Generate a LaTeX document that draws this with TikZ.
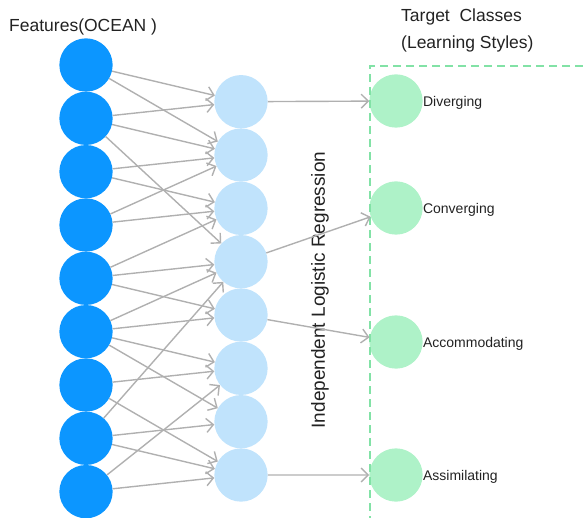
\documentclass[tikz,border=0pt]{standalone}
\usepackage{fontspec}
\setmainfont{Liberation Sans}
\usetikzlibrary{arrows.meta,positioning}
\definecolor{featblue}{RGB}{12,150,255}
\definecolor{hidblue}{RGB}{192,227,252}
\definecolor{targetgreen}{RGB}{174,242,200}
\definecolor{boxgreen}{RGB}{130,226,166}
\definecolor{linkgray}{RGB}{176,176,176}
\definecolor{textgray}{RGB}{34,34,34}
\newcommand{\gapunit}{53.33}
\newcommand{\sizeunit}{53.3pt}
\tikzset{
    neuron/.style={circle, inner sep=0pt, minimum size=\sizeunit},
    feature/.style={neuron, fill=featblue},
    hidden/.style={neuron, fill=hidblue},
    target/.style={neuron, fill=targetgreen},
    targetname/.style={right=0pt of #1, yshift=-1.5pt, inner sep=0pt, text=textgray, font=\fontsize{14}{16}\selectfont},
    heading/.style={anchor=west, inner sep=0pt, text=textgray, font=\fontsize{17.5}{20}\selectfont},
    link/.style={draw=linkgray, line width=1.4pt, -{Straight Barb[length=7pt, width=14pt]}}
}

\begin{document}
\begin{tikzpicture}[x=1pt, y=-1pt]
    \useasboundingbox (0,0) rectangle (583,518);

    \path (86,65)
        node[feature] (f1) {}
        ++(0,\gapunit) node[feature] (f2) {}
        ++(0,\gapunit) node[feature] (f3) {}
        ++(0,\gapunit) node[feature] (f4) {}
        ++(0,\gapunit) node[feature] (f5) {}
        ++(0,\gapunit) node[feature] (f6) {}
        ++(0,\gapunit) node[feature] (f7) {}
        ++(0,\gapunit) node[feature] (f8) {}
        ++(0,\gapunit) node[feature] (f9) {};

    \path (241,101.7)
        node[hidden] (h1) {}
        ++(0,\gapunit) node[hidden] (h2) {}
        ++(0,\gapunit) node[hidden] (h3) {}
        ++(0,\gapunit) node[hidden] (h4) {}
        ++(0,\gapunit) node[hidden] (h5) {}
        ++(0,\gapunit) node[hidden] (h6) {}
        ++(0,\gapunit) node[hidden] (h7) {}
        ++(0,\gapunit) node[hidden] (h8) {};

    \node[target] (t1) at (396,101) {};
    \node[target] (t2) at (396,208) {};
    \node[target] (t3) at (396,342) {};
    \node[target] (t4) at (396,475) {};
    \node[targetname=t1] (t1-name) {Diverging};
    \node[targetname=t2] (t2-name) {Converging};
    \node[targetname=t3] (t3-name) {Accommodating};
    \node[targetname=t4] (t4-name) {Assimilating};

    \node[heading] (features) at (9,27) {Features(OCEAN )};
    \node[heading] (classes) at (401,17) {Target~ Classes};
    \node[heading] (styles) at (401,44) {(Learning Styles)};
    \node[rotate=90, inner sep=0pt, text=textgray, font=\fontsize{19}{22}\selectfont] (method) at (320,290) {Independent Logistic Regression};

    \draw[boxgreen, line width=2pt, dash pattern=on 8pt off 5pt] (583,66) -- (370,66) -- (370,518);

    \draw[link] (f1) -- (h1);
    \draw[link] (f1) -- (h2);
    \draw[link] (f2) -- (h1);
    \draw[link] (f2) -- (h2);
    \draw[link] (f2) -- (h4);
    \draw[link] (f3) -- (h2);
    \draw[link] (f3) -- (h3);
    \draw[link] (f4) -- (h2);
    \draw[link] (f4) -- (h3);
    \draw[link] (f5) -- (h3);
    \draw[link] (f5) -- (h4);
    \draw[link] (f5) -- (h5);
    \draw[link] (f6) -- (h4);
    \draw[link] (f6) -- (h5);
    \draw[link] (f6) -- (h6);
    \draw[link] (f6) -- (h7);
    \draw[link] (f7) -- (h6);
    \draw[link] (f7) -- (h8);
    \draw[link] (f8) -- (h4);
    \draw[link] (f8) -- (h7);
    \draw[link] (f8) -- (h8);
    \draw[link] (f9) -- (h6);
    \draw[link] (f9) -- (h8);

    \draw[link] (h1) -- (t1);
    \draw[link] (h4) -- (t2);
    \draw[link] (h5) -- (t3);
    \draw[link] (h8) -- (t4);
\end{tikzpicture}
\end{document}
